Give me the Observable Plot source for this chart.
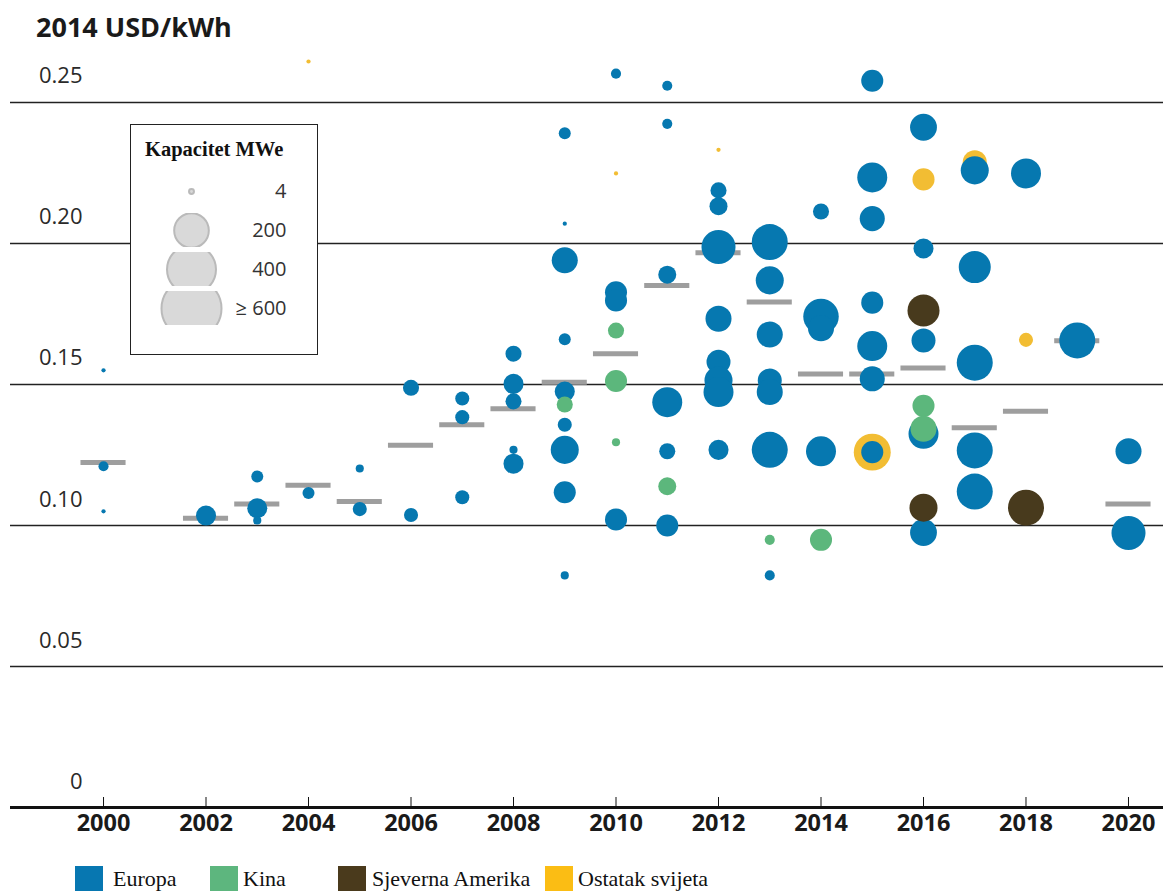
<!DOCTYPE html>
<html>
<head>
<meta charset="utf-8">
<script src="https://cdn.jsdelivr.net/npm/d3@7"></script>
<script src="https://cdn.jsdelivr.net/npm/@observablehq/plot@0.6"></script>
<style>
  html, body { margin: 0; padding: 0; background: #fff; }
  #wrap { position: relative; width: 1163px; height: 891px; overflow: hidden; background: #fff; }
  #title { position: absolute; left: 36px; top: 13px; font: bold 27px "Open Sans", sans-serif; line-height: 1; color: #1a1a1a; white-space: nowrap; }
  #chart { position: absolute; left: 0; top: 50px; }
  #sizeBox { position: absolute; left: 130px; top: 124px; width: 188px; height: 231px; box-sizing: border-box; border: 1.5px solid #222; background: #fff; }
  #sizeTitle { position: absolute; left: 14px; top: 14px; font: bold 20.5px "Liberation Serif", serif; line-height: 1; color: #111; white-space: nowrap; }
  #sizeLegend { position: absolute; left: 131px; top: 160px; }
  .sw { position: absolute; top: 866px; width: 28px; height: 25px; }
  .lt { position: absolute; top: 868px; font: 22px "Liberation Serif", serif; line-height: 1; color: #111; white-space: nowrap; }
</style>
</head>
<body>
<div id="wrap">
  <div id="title">2014 USD/kWh</div>
  <div id="chart"></div>
  <div id="sizeBox"><div id="sizeTitle">Kapacitet MWe</div></div>
  <div id="sizeLegend"></div>
  <div id="colorLegend"></div>
</div>
<script>
// ---- data: [year, LCOE (2014 USD/kWh), capacity (MWe)] ----
const regions = ["Europa", "Kina", "Sjeverna Amerika", "Ostatak svijeta"];
const regionColors = ["#0678b0", "#5cb77c", "#483a1d", "#f2bd33"];
const legendSwatchColors = ["#0777b1", "#5db67e", "#4a3a1c", "#fbbd14"];

const europa = [
  [2000, 0.155, 3], [2000, 0.121, 17], [2000, 0.105, 3],
  [2002, 0.1035, 67],
  [2003, 0.1174, 24], [2003, 0.1061, 67], [2003, 0.1018, 11],
  [2004, 0.1115, 24],
  [2005, 0.1202, 11], [2005, 0.1058, 33],
  [2006, 0.1488, 43], [2006, 0.1037, 33],
  [2007, 0.145, 33], [2007, 0.1384, 33], [2007, 0.110, 33],
  [2008, 0.1609, 43], [2008, 0.1502, 67], [2008, 0.144, 43], [2008, 0.1268, 11], [2008, 0.1219, 67],
  [2009, 0.2391, 24], [2009, 0.207, 3], [2009, 0.194, 113], [2009, 0.166, 24], [2009, 0.1475, 67],
  [2009, 0.1357, 33], [2009, 0.1268, 131], [2009, 0.1118, 81], [2009, 0.0823, 11],
  [2010, 0.2602, 17], [2010, 0.1827, 81], [2010, 0.1798, 81], [2010, 0.1021, 81],
  [2011, 0.2559, 17], [2011, 0.2424, 17], [2011, 0.1889, 54], [2011, 0.1437, 150], [2011, 0.1263, 43], [2011, 0.100, 81],
  [2012, 0.2188, 43], [2012, 0.2132, 54], [2012, 0.1987, 193], [2012, 0.1733, 113], [2012, 0.158, 96],
  [2012, 0.1514, 131], [2012, 0.1473, 150], [2012, 0.1268, 67],
  [2013, 0.2005, 216], [2013, 0.1869, 131], [2013, 0.1677, 113], [2013, 0.1514, 96], [2013, 0.1473, 113],
  [2013, 0.1268, 216], [2013, 0.0823, 17],
  [2014, 0.2113, 43], [2014, 0.1741, 210], [2014, 0.1699, 113], [2014, 0.1263, 150],
  [2015, 0.2577, 81], [2015, 0.2234, 150], [2015, 0.2088, 105], [2015, 0.179, 81], [2015, 0.1636, 150],
  [2015, 0.152, 105], [2015, 0.126, 81],
  [2016, 0.2412, 120], [2016, 0.1982, 67], [2016, 0.1656, 96], [2016, 0.1325, 150], [2016, 0.0975, 120],
  [2017, 0.2259, 131], [2017, 0.1916, 171], [2017, 0.1577, 216], [2017, 0.1266, 216], [2017, 0.112, 216],
  [2018, 0.2248, 150],
  [2019, 0.1656, 216],
  [2020, 0.1263, 113], [2020, 0.0973, 193]
];
const kina = [
  [2009, 0.1429, 43],
  [2010, 0.1691, 43], [2010, 0.1512, 81], [2010, 0.1295, 11],
  [2011, 0.1139, 54],
  [2013, 0.0949, 17],
  [2014, 0.0949, 81],
  [2016, 0.1424, 81], [2016, 0.1343, 113]
];
const sjevernaAmerika = [
  [2016, 0.1762, 171], [2016, 0.1063, 131],
  [2018, 0.1063, 216]
];
const ostatakSvijeta = [
  [2004, 0.2645, 3], [2010, 0.2248, 3], [2012, 0.2332, 3],
  [2015, 0.126, 228], [2016, 0.2227, 81], [2017, 0.2288, 96], [2018, 0.1658, 33]
];

// weighted-average bars
const medianYears = [2000, 2002, 2003, 2004, 2005, 2006, 2007, 2008, 2009, 2010, 2011, 2012, 2013, 2014, 2015, 2016, 2017, 2018, 2019, 2020];
const medianValues = [0.1223, 0.1026, 0.1076, 0.1143, 0.1085, 0.1284, 0.1357, 0.1414, 0.1508, 0.1609, 0.1851, 0.1967, 0.1792, 0.1537, 0.1537, 0.1558, 0.1346, 0.1405, 0.1655, 0.1076];

// axes
const xTicks = [2000, 2002, 2004, 2006, 2008, 2010, 2012, 2014, 2016, 2018, 2020];
const yTicks = [0, 0.05, 0.10, 0.15, 0.20, 0.25];
const yTickLabels = ["0", "0.05", "0.10", "0.15", "0.20", "0.25"];

// size legend
const sizeLegendLabels = ["4", "200", "400", "≥ 600"];
const sizeLegendValues = [4, 200, 400, 600];

// ---- build tables ----
const toRows = (arr, region) => arr.map(([year, lcoe, mw]) => ({year, lcoe, mw, region}));
// drawing order: rest of world, Europe, China, North America
const points = [
  ...toRows(ostatakSvijeta, "Ostatak svijeta"),
  ...toRows(europa, "Europa"),
  ...toRows(kina, "Kina"),
  ...toRows(sjevernaAmerika, "Sjeverna Amerika")
];
const medians = medianYears.map((year, i) => ({year, value: medianValues[i]}));
const yTickRows = yTicks.map((v, i) => ({v, label: yTickLabels[i]}));
const sizeRows = sizeLegendLabels.map((label, i) => ({label, mw: sizeLegendValues[i]}));

const rScale = {type: "sqrt", domain: [0, 600], range: [0, 30], clamp: true};
const font = "'Open Sans', 'DejaVu Sans', sans-serif";

const chart = Plot.plot({
  width: 1163,
  height: 800,
  marginLeft: 10,
  marginRight: 0,
  marginTop: 0,
  marginBottom: 43,
  style: {fontFamily: font, background: "transparent", overflow: "visible"},
  x: {domain: [1998.185, 2020.683], axis: null},
  y: {domain: [0, 0.2684], axis: null},
  r: rScale,
  color: {domain: regions, range: regionColors},
  marks: [
    Plot.ruleY(yTicks.filter(d => d > 0), {stroke: "#222", strokeWidth: 1.5}),
    Plot.text(yTickRows, {y: "v", text: "label", frameAnchor: "left", dx: 72, dy: -26, textAnchor: "end",
      fontSize: 22, fill: "#2a2a2a", fontFamily: font}),
    Plot.ruleY(medians, {y: "value", x1: d => d.year - 0.44, x2: d => d.year + 0.44, stroke: "#9e9e9e", strokeWidth: 5}),
    Plot.dot(points, {x: "year", y: "lcoe", r: "mw", fill: "region", sort: null}),
    Plot.ruleY([0], {stroke: "#111", strokeWidth: 3}),
    Plot.tickX(xTicks, {x: d => d, insetTop: 747, stroke: "#111", strokeWidth: 1}),
    Plot.text(xTicks, {x: d => d, text: d => String(d), frameAnchor: "bottom", dy: 23,
      fontSize: 23.5, fontWeight: "bold", fill: "#1a1a1a", fontFamily: font})
  ]
});
document.getElementById("chart").appendChild(chart);

const sizeLegend = Plot.plot({
  width: 185,
  height: 170,
  marginLeft: 0,
  marginRight: 0,
  marginTop: 13.1,
  marginBottom: 5.2,
  style: {fontFamily: font, background: "transparent"},
  fy: {domain: sizeLegendLabels, padding: 0.14, axis: null},
  r: rScale,
  facet: {data: sizeRows, y: "label"},
  marks: [
    Plot.dot(sizeRows, {r: "mw", frameAnchor: "left", dx: 60, fill: "#d9d9d9", stroke: "#bababa", strokeWidth: 2, clip: true}),
    Plot.text(sizeRows, {text: "label", frameAnchor: "right", dx: -30, textAnchor: "end", fontSize: 20, fill: "#333", fontFamily: font})
  ]
});
document.getElementById("sizeLegend").appendChild(sizeLegend);

// colour legend
const swatchX = [75, 210, 338, 545];
const labelX = [113, 243, 372, 578];
const cl = document.getElementById("colorLegend");
regions.forEach((name, i) => {
  const sw = document.createElement("div");
  sw.className = "sw";
  sw.style.left = swatchX[i] + "px";
  sw.style.background = legendSwatchColors[i];
  cl.appendChild(sw);
  const t = document.createElement("div");
  t.className = "lt";
  t.style.left = labelX[i] + "px";
  t.textContent = name;
  cl.appendChild(t);
});
</script>
</body>
</html>
